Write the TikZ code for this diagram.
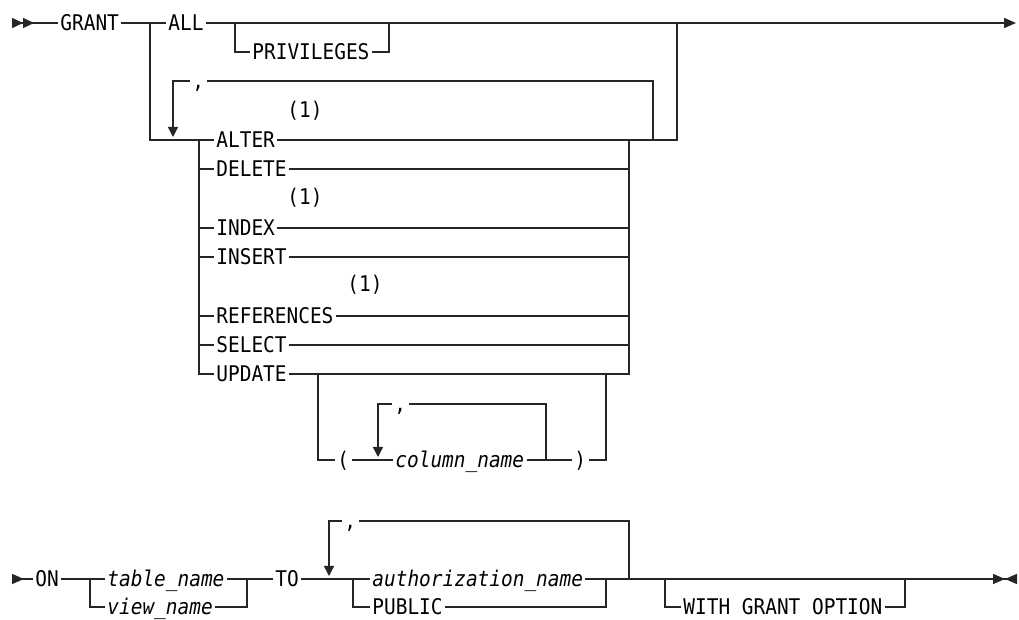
\documentclass[tikz,border=0pt]{standalone}
\usepackage{fontspec}
\usepackage{tikz}
\usetikzlibrary{arrows.meta,positioning}
\newfontfamily\rrfont{DejaVu Sans Mono}[FakeStretch=0.9, ItalicFont={DejaVu Sans Mono Oblique}, ItalicFeatures={FakeStretch=0.9}]
\newcommand{\rrsize}{\fontsize{10.8pt}{12pt}\selectfont}
\tikzset{
  kw/.style={anchor=west, inner xsep=1pt, inner ysep=0pt, text height=7.8pt, text depth=0pt, font=\rrfont\rrsize},
  var/.style={kw, font=\rrfont\itshape\rrsize},
  note/.style={inner sep=0pt, font=\rrfont\rrsize},
  rail/.style={line width=0.7pt, draw=black!85},
  backarrow/.style={rail, -{Triangle[length=5pt, width=5pt]}},
  startmark/.style={rail, {Triangle[reversed, length=5.5pt, width=5pt] Triangle[reversed, length=5.5pt, width=5pt]}-},
  contmark/.style={rail, {Triangle[reversed, length=6pt, width=5pt]}-},
  endarrow/.style={rail, -{Triangle[length=6pt, width=5pt]}},
  endmark/.style={rail, -{Triangle[length=6pt, width=5pt] Triangle[reversed, length=6pt, width=5pt]}}
}

\begin{document}
\begin{tikzpicture}[x=0.5pt, y=-0.5pt]
  \useasboundingbox (0,0) rectangle (1019,620);

  % Junctions and line ends, first line
  \coordinate (s1) at (12,23);
  \coordinate (e1) at (1016,23);
  \coordinate (jPrivIn) at (235,23);
  \coordinate (jPrivOut) at (389,23);
  \coordinate (jAllIn) at (150,23);
  \coordinate (jAllOut) at (677,23);
  \coordinate (jLoop1) at (653,140);
  \coordinate (a1) at (173,137);
  \coordinate (jPickIn) at (199,140);
  \coordinate (jPickOut) at (629,140);
  \coordinate (jColIn) at (318,374);
  \coordinate (jColOut) at (606,374);
  \coordinate (jLoop2) at (546,460);
  \coordinate (a2) at (378,457);

  % Junctions and line ends, second line
  \coordinate (s2) at (12,579);
  \coordinate (e2) at (1017,579);
  \coordinate (jObjIn) at (90,579);
  \coordinate (jObjOut) at (247,579);
  \coordinate (jWhoIn) at (353,579);
  \coordinate (jWhoOut) at (606,579);
  \coordinate (jLoop3) at (629,579);
  \coordinate (a3) at (329,576);
  \coordinate (jOptIn) at (665,579);
  \coordinate (jOptOut) at (905,579);

  % Keywords (first line)
  \node[kw] (grant) at (58,23) {GRANT};
  \node[kw] (all) at (166,23) {ALL};
  \node[kw] (priv) at (250,52) {PRIVILEGES};
  \node[kw] (cm1) at (190,81) {,};
  \node[kw] (alter) at (214,140) {ALTER};
  \node[kw] (delete) at (214,169) {DELETE};
  \node[kw] (index) at (214,228) {INDEX};
  \node[kw] (insert) at (214,257) {INSERT};
  \node[kw] (refs) at (214,316) {REFERENCES};
  \node[kw] (select) at (214,345) {SELECT};
  \node[kw] (update) at (214,374) {UPDATE};

  % Footnote marks
  \node[note] (f1) at (305,111) {(1)};
  \node[note] (f2) at (305,198) {(1)};
  \node[note] (f3) at (365,285) {(1)};

  % Column list
  \node[kw] (lpar) at (335,460) {(};
  \node[kw] (cm2) at (392,404) {,};
  \node[var] (col) at (393,460) {column\_name};
  \node[kw] (rpar) at (572,460) {)};

  % Keywords (second line)
  \node[kw] (on) at (33,579) {ON};
  \node[var] (tbl) at (105,579) {table\_name};
  \node[var] (view) at (105,607) {view\_name};
  \node[kw] (to) at (273,579) {TO};
  \node[kw] (cm3) at (342,521) {,};
  \node[var] (auth) at (370,579) {authorization\_name};
  \node[kw] (public) at (370,607) {PUBLIC};
  \node[kw] (wgo) at (681,607) {WITH GRANT OPTION};

  % First line rails
  \draw[startmark] (s1) -- (grant);
  \draw[rail] (grant) -- (all);
  \draw[endarrow] (all) -- (e1);
  \draw[rail] (jPrivIn) |- (priv);
  \draw[rail] (priv) -| (jPrivOut);
  \draw[rail] (jAllIn) |- (alter);
  \draw[rail] (alter) -| (jAllOut);
  \draw[rail] (jLoop1) |- (cm1);
  \draw[backarrow] (cm1) -| (a1);

  % Privilege choices
  \draw[rail] (jPickIn) |- (update);
  \draw[rail] (update) -| (jPickOut);
  \foreach \k in {delete,index,insert,refs,select}{
    \draw[rail] (jPickIn |- \k) -- (\k) -- (\k -| jPickOut);
  }

  % Optional column list
  \draw[rail] (jColIn) |- (lpar);
  \draw[rail] (lpar) -- (col);
  \draw[rail] (col) -- (rpar);
  \draw[rail] (rpar) -| (jColOut);
  \draw[rail] (jLoop2) |- (cm2);
  \draw[backarrow] (cm2) -| (a2);

  % Second line rails
  \draw[contmark] (s2) -- (on);
  \draw[rail] (on) -- (tbl);
  \draw[rail] (jObjIn) |- (view);
  \draw[rail] (tbl) -- (to);
  \draw[rail] (view) -| (jObjOut);
  \draw[rail] (to) -- (auth);
  \draw[endmark] (auth) -- (e2);
  \draw[rail] (jWhoIn) |- (public);
  \draw[rail] (public) -| (jWhoOut);
  \draw[rail] (jLoop3) |- (cm3);
  \draw[backarrow] (cm3) -| (a3);
  \draw[rail] (jOptIn) |- (wgo);
  \draw[rail] (wgo) -| (jOptOut);
\end{tikzpicture}
\end{document}
